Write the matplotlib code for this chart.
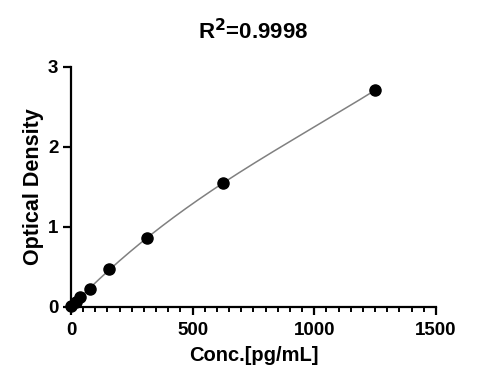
import numpy as np
import matplotlib.pyplot as plt
from matplotlib.ticker import MultipleLocator

# standard curve points
conc = [0, 19.5, 39, 78, 156, 312.5, 625, 1250]
od = [0.01, 0.06, 0.12, 0.225, 0.475, 0.86, 1.55, 2.71]
r2_text = r'R$^\mathbf{2}$=0.9998'

plt.rcParams['font.family'] = ['Liberation Sans', 'DejaVu Sans']
plt.rcParams['font.weight'] = 'bold'

fig = plt.figure(figsize=(4.78, 3.85), dpi=100)
ax = fig.add_axes([0.1485, 0.2026, 0.7636, 0.6234])

# smooth fit through the points
coef = np.polyfit(conc, od, 3)
xs = np.linspace(0, max(conc), 300)
ax.plot(xs, np.polyval(coef, xs), color='#808080', lw=1.1, zorder=2, clip_on=False)
ax.plot(conc, od, 'o', color='black', ms=8, zorder=3, clip_on=False)

ax.set_xlim(0, 1500)
ax.set_ylim(0, 3)
ax.xaxis.set_major_locator(MultipleLocator(500))
ax.xaxis.set_minor_locator(MultipleLocator(50))
ax.yaxis.set_major_locator(MultipleLocator(1))

for s in ['top', 'right']:
    ax.spines[s].set_visible(False)
for s in ['left', 'bottom']:
    ax.spines[s].set_linewidth(1.6)

ax.tick_params(which='major', length=6, width=1.6, labelsize=13.5)
ax.tick_params(axis='x', which='major', pad=5)
ax.tick_params(axis='y', which='major', pad=3)
ax.tick_params(which='minor', length=3.5, width=1.4)
for lbl in ax.get_xticklabels() + ax.get_yticklabels():
    lbl.set_fontweight('bold')

ax.set_xlabel('Conc.[pg/mL]', fontsize=14.5, fontweight='bold', labelpad=5)
ax.set_ylabel('Optical Density', fontsize=15.5, fontweight='bold', labelpad=3)
ax.set_title(r2_text, fontsize=16, fontweight='bold', pad=20)

fig.savefig('out.png', dpi=100)
